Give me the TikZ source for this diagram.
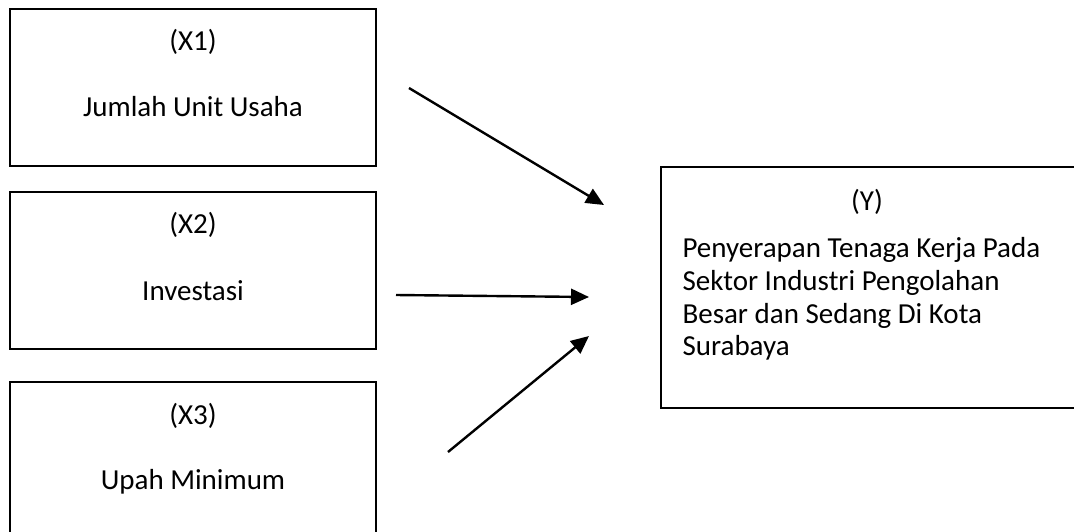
\documentclass[tikz,border=0pt]{standalone}
\usepackage{fontspec}
\setmainfont{Carlito}
\usetikzlibrary{arrows.meta}

\begin{document}
\begin{tikzpicture}[
    x=1pt, y=-1pt,
    varbox/.style={draw, line width=2pt, minimum width=366pt, minimum height=157pt, inner sep=0pt},
    ybox/.style={draw, line width=2pt, minimum width=420pt, minimum height=241pt, inner sep=0pt},
    boxtext/.style={anchor=base, font=\fontsize{29}{34}\selectfont},
    ytext/.style={anchor=base west, font=\fontsize{29}{34}\selectfont},
    conn/.style={-{Triangle[length=18pt, width=16pt]}, line width=2.4pt}
    ]
    \useasboundingbox (0,0) rectangle (1074,531);
    \clip (0,0) rectangle (1074,531);

    % independent variables
    \node [varbox] (bX1) at (193,87) {};
    \node [boxtext] (tX1) at (193,50) {(X1)};
    \node [boxtext] (nX1) at (193,116) {Jumlah Unit Usaha};

    \node [varbox] (bX2) at (193,270) {};
    \node [boxtext] (tX2) at (193,233) {(X2)};
    \node [boxtext] (nX2) at (193,300) {Investasi};

    \node [varbox] (bX3) at (193,460) {};
    \node [boxtext] (tX3) at (193,424) {(X3)};
    \node [boxtext] (nX3) at (193,489) {Upah Minimum};

    % dependent variable
    \node [ybox] (bY) at (871,287.5) {};
    \node [boxtext] (tY) at (867,210) {(Y)};
    \node [ytext] (nY1) at (679,257) {Penyerapan Tenaga Kerja Pada};
    \node [ytext] (nY2) at (679,290) {Sektor Industri Pengolahan};
    \node [ytext] (nY3) at (679,323) {Besar dan Sedang Di Kota};
    \node [ytext] (nY4) at (679,355) {Surabaya};

    % arrows
    \coordinate (s1) at (409,88);
    \coordinate (e1) at (604,205);
    \coordinate (s2) at (396,295);
    \coordinate (e2) at (589,297);
    \coordinate (s3) at (448,452);
    \coordinate (e3) at (589,336);
    \draw [conn] (s1) -- (e1);
    \draw [conn] (s2) -- (e2);
    \draw [conn] (s3) -- (e3);
\end{tikzpicture}
\end{document}
